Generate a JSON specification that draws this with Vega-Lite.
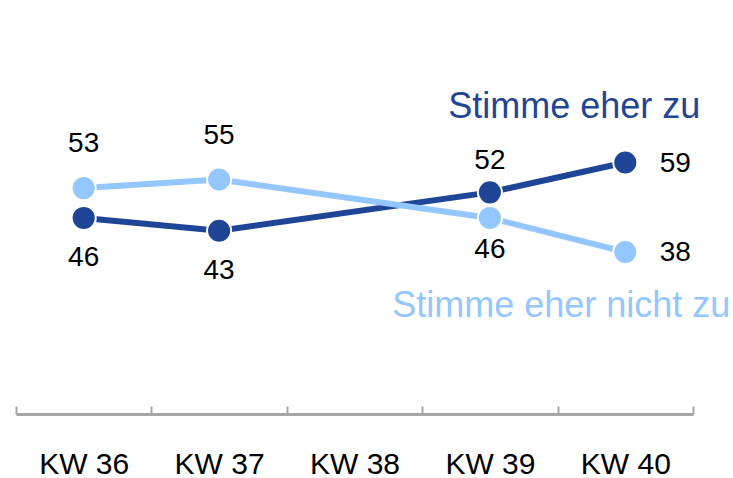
{
  "$schema": "https://vega.github.io/schema/vega-lite/v6.json",
  "width": 677,
  "height": 341,
  "autosize": {"type": "none"},
  "padding": {"left": 16, "top": 73, "right": 40, "bottom": 64},
  "background": "white",
  "config": {
    "view": {"stroke": null},
    "font": "Liberation Sans",
    "text": {"font": "Liberation Sans"}
  },
  "data": {
    "values": [
      {"series": "Stimme eher zu", "week": "KW 36", "value": 46},
      {"series": "Stimme eher zu", "week": "KW 37", "value": 43},
      {"series": "Stimme eher zu", "week": "KW 39", "value": 52},
      {"series": "Stimme eher zu", "week": "KW 40", "value": 59},
      {"series": "Stimme eher nicht zu", "week": "KW 36", "value": 53},
      {"series": "Stimme eher nicht zu", "week": "KW 37", "value": 55},
      {"series": "Stimme eher nicht zu", "week": "KW 39", "value": 46},
      {"series": "Stimme eher nicht zu", "week": "KW 40", "value": 38}
    ]
  },
  "encoding": {
    "x": {
      "field": "week",
      "type": "ordinal",
      "scale": {"domain": ["KW 36", "KW 37", "KW 38", "KW 39", "KW 40"], "paddingInner": 0, "paddingOuter": 0},
      "axis": {
        "title": null,
        "labelAngle": 0,
        "labelFont": "Liberation Sans",
        "labelFontSize": 30,
        "labelColor": "black",
        "labelPadding": 43,
        "tickBand": "extent",
        "tickSize": -8,
        "tickWidth": 2,
        "tickColor": "#A6A6A6",
        "domainColor": "#A6A6A6",
        "domainWidth": 3,
        "grid": false
      }
    },
    "y": {
      "field": "value",
      "type": "quantitative",
      "scale": {"domain": [0, 80]},
      "axis": null
    },
    "color": {
      "field": "series",
      "type": "nominal",
      "scale": {"domain": ["Stimme eher zu", "Stimme eher nicht zu"], "range": ["#1F4597", "#94C6FF"]},
      "legend": null
    }
  },
  "layer": [
    {
      "mark": {"type": "line", "strokeWidth": 6},
      "encoding": {"detail": {"field": "series"}}
    },
    {
      "mark": {"type": "point", "filled": true, "size": 580, "opacity": 1, "stroke": "white", "strokeWidth": 2},
      "encoding": {"order": {"field": "series", "sort": "descending"}}
    },
    {
      "transform": [{"filter": "datum.series == 'Stimme eher nicht zu' && (datum.week == 'KW 36' || datum.week == 'KW 37')"}],
      "mark": {"type": "text", "fontSize": 28, "baseline": "middle", "dy": -44},
      "encoding": {"text": {"field": "value"}, "color": {"value": "black"}}
    },
    {
      "transform": [{"filter": "datum.series == 'Stimme eher zu' && datum.week == 'KW 39'"}],
      "mark": {"type": "text", "fontSize": 28, "baseline": "middle", "dy": -31},
      "encoding": {"text": {"field": "value"}, "color": {"value": "black"}}
    },
    {
      "transform": [{"filter": "datum.series == 'Stimme eher zu' && (datum.week == 'KW 36' || datum.week == 'KW 37')"}],
      "mark": {"type": "text", "fontSize": 28, "baseline": "middle", "dy": 40},
      "encoding": {"text": {"field": "value"}, "color": {"value": "black"}}
    },
    {
      "transform": [{"filter": "datum.series == 'Stimme eher nicht zu' && datum.week == 'KW 39'"}],
      "mark": {"type": "text", "fontSize": 28, "baseline": "middle", "dy": 32},
      "encoding": {"text": {"field": "value"}, "color": {"value": "black"}}
    },
    {
      "transform": [{"filter": "datum.week == 'KW 40'"}],
      "mark": {"type": "text", "fontSize": 28, "baseline": "middle", "dx": 50, "dy": 1},
      "encoding": {"text": {"field": "value"}, "color": {"value": "black"}}
    },
    {
      "transform": [{"filter": "datum.week == 'KW 40' && datum.series == 'Stimme eher zu'"}],
      "mark": {"type": "text", "fontSize": 36, "baseline": "middle", "align": "right", "dx": 75, "dy": -56},
      "encoding": {"text": {"field": "series"}, "color": {"value": "#1F4597"}}
    },
    {
      "transform": [{"filter": "datum.week == 'KW 40' && datum.series == 'Stimme eher nicht zu'"}],
      "mark": {"type": "text", "fontSize": 36, "baseline": "middle", "align": "right", "dx": 105, "dy": 54},
      "encoding": {"text": {"field": "series"}, "color": {"value": "#94C6FF"}}
    }
  ]
}
